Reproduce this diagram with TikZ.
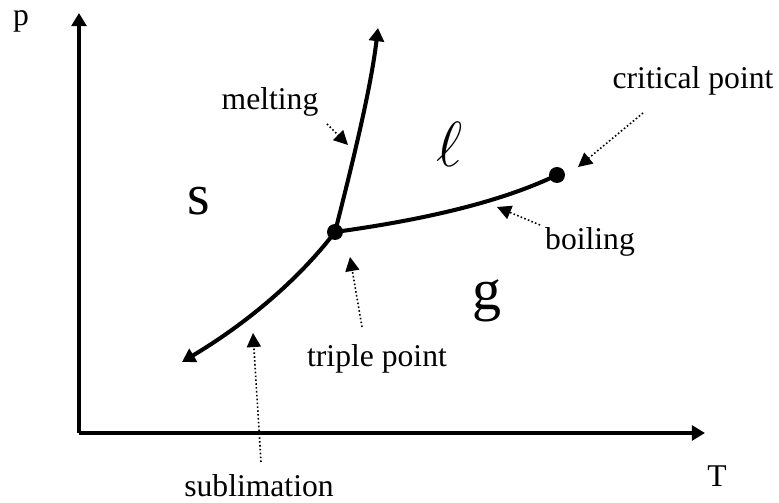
\documentclass[tikz,border=0pt]{standalone}
\usepackage{fontspec}
\setmainfont{Liberation Serif}
\usepackage{graphicx}
\usepackage{tikz}
\usetikzlibrary{arrows.meta}

\begin{document}
\begin{tikzpicture}[
phaseline/.style={
line width=2.3pt,
-{Triangle[length=7.5pt,width=8.5pt]}
},
hint/.style={
line width=0.9pt,
dash pattern=on 0.9pt off 1.3pt,
-{Triangle[length=8pt,width=8pt]}
},
lbl/.style={
anchor=base,
inner sep=0pt,
font=\fontsize{18}{22}\selectfont
},
big/.style={
anchor=base,
inner sep=0pt,
font=\fontsize{33}{40}\selectfont
}
]
\useasboundingbox (-1.58,-1.38) rectangle (14.0,8.66);

% axes
\coordinate (O) at (0,0);
\coordinate (ptip) at (0,8.4);
\coordinate (Ttip) at (12.52,0);
\draw[phaseline] (O)--(ptip);
\draw[phaseline] (O)--(Ttip);

\node[lbl] (p) at (-1.16,8.14) {p};
\node[lbl] (T) at (12.76,-1.06) {T};

% phase boundaries
\coordinate (TP) at (5.12,4.02);
\coordinate (CP) at (9.56,5.16);
\coordinate (mtip) at (5.98,8.10);
\coordinate (stip) at (2.06,1.42);

\draw[phaseline] (TP) .. controls (5.55,5.7) and (5.85,7.0) .. (mtip);
\draw[phaseline] (TP) .. controls (4.3,2.95) and (3.2,2.1) .. (stip);
\draw[line width=2.3pt] (TP) .. controls (6.8,4.25) and (8.4,4.6) .. (CP);

\fill (TP) circle (0.16);
\fill (CP) circle (0.16);

% phases
\node[big] (s) at (2.4,4.36) {s};
\node[lbl] (l) at (7.42,5.32) {\scalebox{2.1}{$\ell$}};
\node[big] (g) at (8.16,2.46) {g};

% labels
\node[lbl] (melt) at (3.82,6.46) {melting};
\node[lbl] (triple) at (5.96,1.32) {triple point};
\node[lbl] (subl) at (3.6,-1.28) {sublimation};
\node[lbl] (boil) at (10.22,3.66) {boiling};
\node[lbl] (crit) at (12.28,6.88) {critical point};

\coordinate (melt0) at (4.96,6.18);
\coordinate (melt1) at (5.38,5.76);
\coordinate (triple0) at (5.66,2.12);
\coordinate (triple1) at (5.42,3.52);
\coordinate (subl0) at (3.64,-0.58);
\coordinate (subl1) at (3.48,2.0);
\coordinate (boil0) at (9.22,4.16);
\coordinate (boil1) at (8.36,4.52);
\coordinate (crit0) at (11.28,6.4);
\coordinate (crit1) at (9.98,5.32);

\draw[hint] (melt0)--(melt1);
\draw[hint] (triple0)--(triple1);
\draw[hint] (subl0)--(subl1);
\draw[hint] (boil0)--(boil1);
\draw[hint] (crit0)--(crit1);

\end{tikzpicture}
\end{document}
